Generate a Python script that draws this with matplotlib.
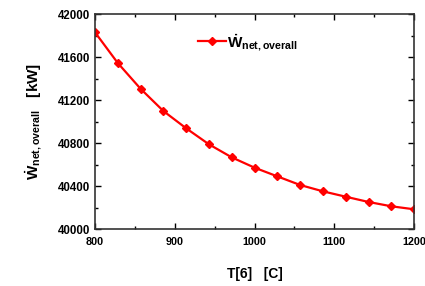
import numpy as np
import matplotlib
matplotlib.use("Agg")
from matplotlib import pyplot as plt
from matplotlib.ticker import MultipleLocator

plt.rcParams['font.family'] = 'Liberation Sans'
plt.rcParams['font.weight'] = 'bold'
plt.rcParams['mathtext.fontset'] = 'custom'
plt.rcParams['mathtext.rm'] = 'Liberation Sans:bold'
plt.rcParams['mathtext.bf'] = 'Liberation Sans:bold'
plt.rcParams['mathtext.it'] = 'Liberation Sans:bold'

# T[6] in C and net overall power in kW
t6 = [800, 828.6, 857.1, 885.7, 914.3, 942.9, 971.4, 1000,
      1028.6, 1057.1, 1085.7, 1114.3, 1142.9, 1171.4, 1200]
w_net = [41830, 41544, 41305, 41098, 40937, 40788, 40667, 40571,
         40490, 40410, 40351, 40301, 40252, 40212, 40184]

fig = plt.figure(figsize=(4.25, 2.86), dpi=100)
ax = fig.add_axes([0.2235, 0.199, 0.751, 0.752])

ax.plot(t6, w_net, color='red', lw=1.6, marker='D', ms=4,
        label=r'$\dot{\mathrm{W}}_{\mathrm{net,overall}}$')

ax.set_xlim(800, 1200)
ax.set_ylim(40000, 42000)
ax.xaxis.set_major_locator(MultipleLocator(100))
ax.xaxis.set_minor_locator(MultipleLocator(50))
ax.yaxis.set_major_locator(MultipleLocator(400))
ax.yaxis.set_minor_locator(MultipleLocator(200))
ax.tick_params(which='both', direction='in', top=True, right=True,
               labelsize=8.3, width=1)
ax.tick_params(axis='x', labelsize=7.8, pad=6)
ax.tick_params(which='major', length=4)
ax.tick_params(which='minor', length=2.5)
for s in ax.spines.values():
    s.set_linewidth(1.2)
    s.set_color('#333333')

ax.set_xlabel('T[6]   [C]', fontsize=10, fontweight='bold', labelpad=14)
ax.set_ylabel(r'$\dot{\mathrm{W}}_{\mathrm{net,overall}}$   [kW]', fontsize=11,
              fontweight='bold', labelpad=10)

ax.legend(loc='upper left', bbox_to_anchor=(0.28, 0.98), frameon=False,
          fontsize=11, handlelength=1.8, handletextpad=0.1)

fig.savefig('out.png', dpi=100)
